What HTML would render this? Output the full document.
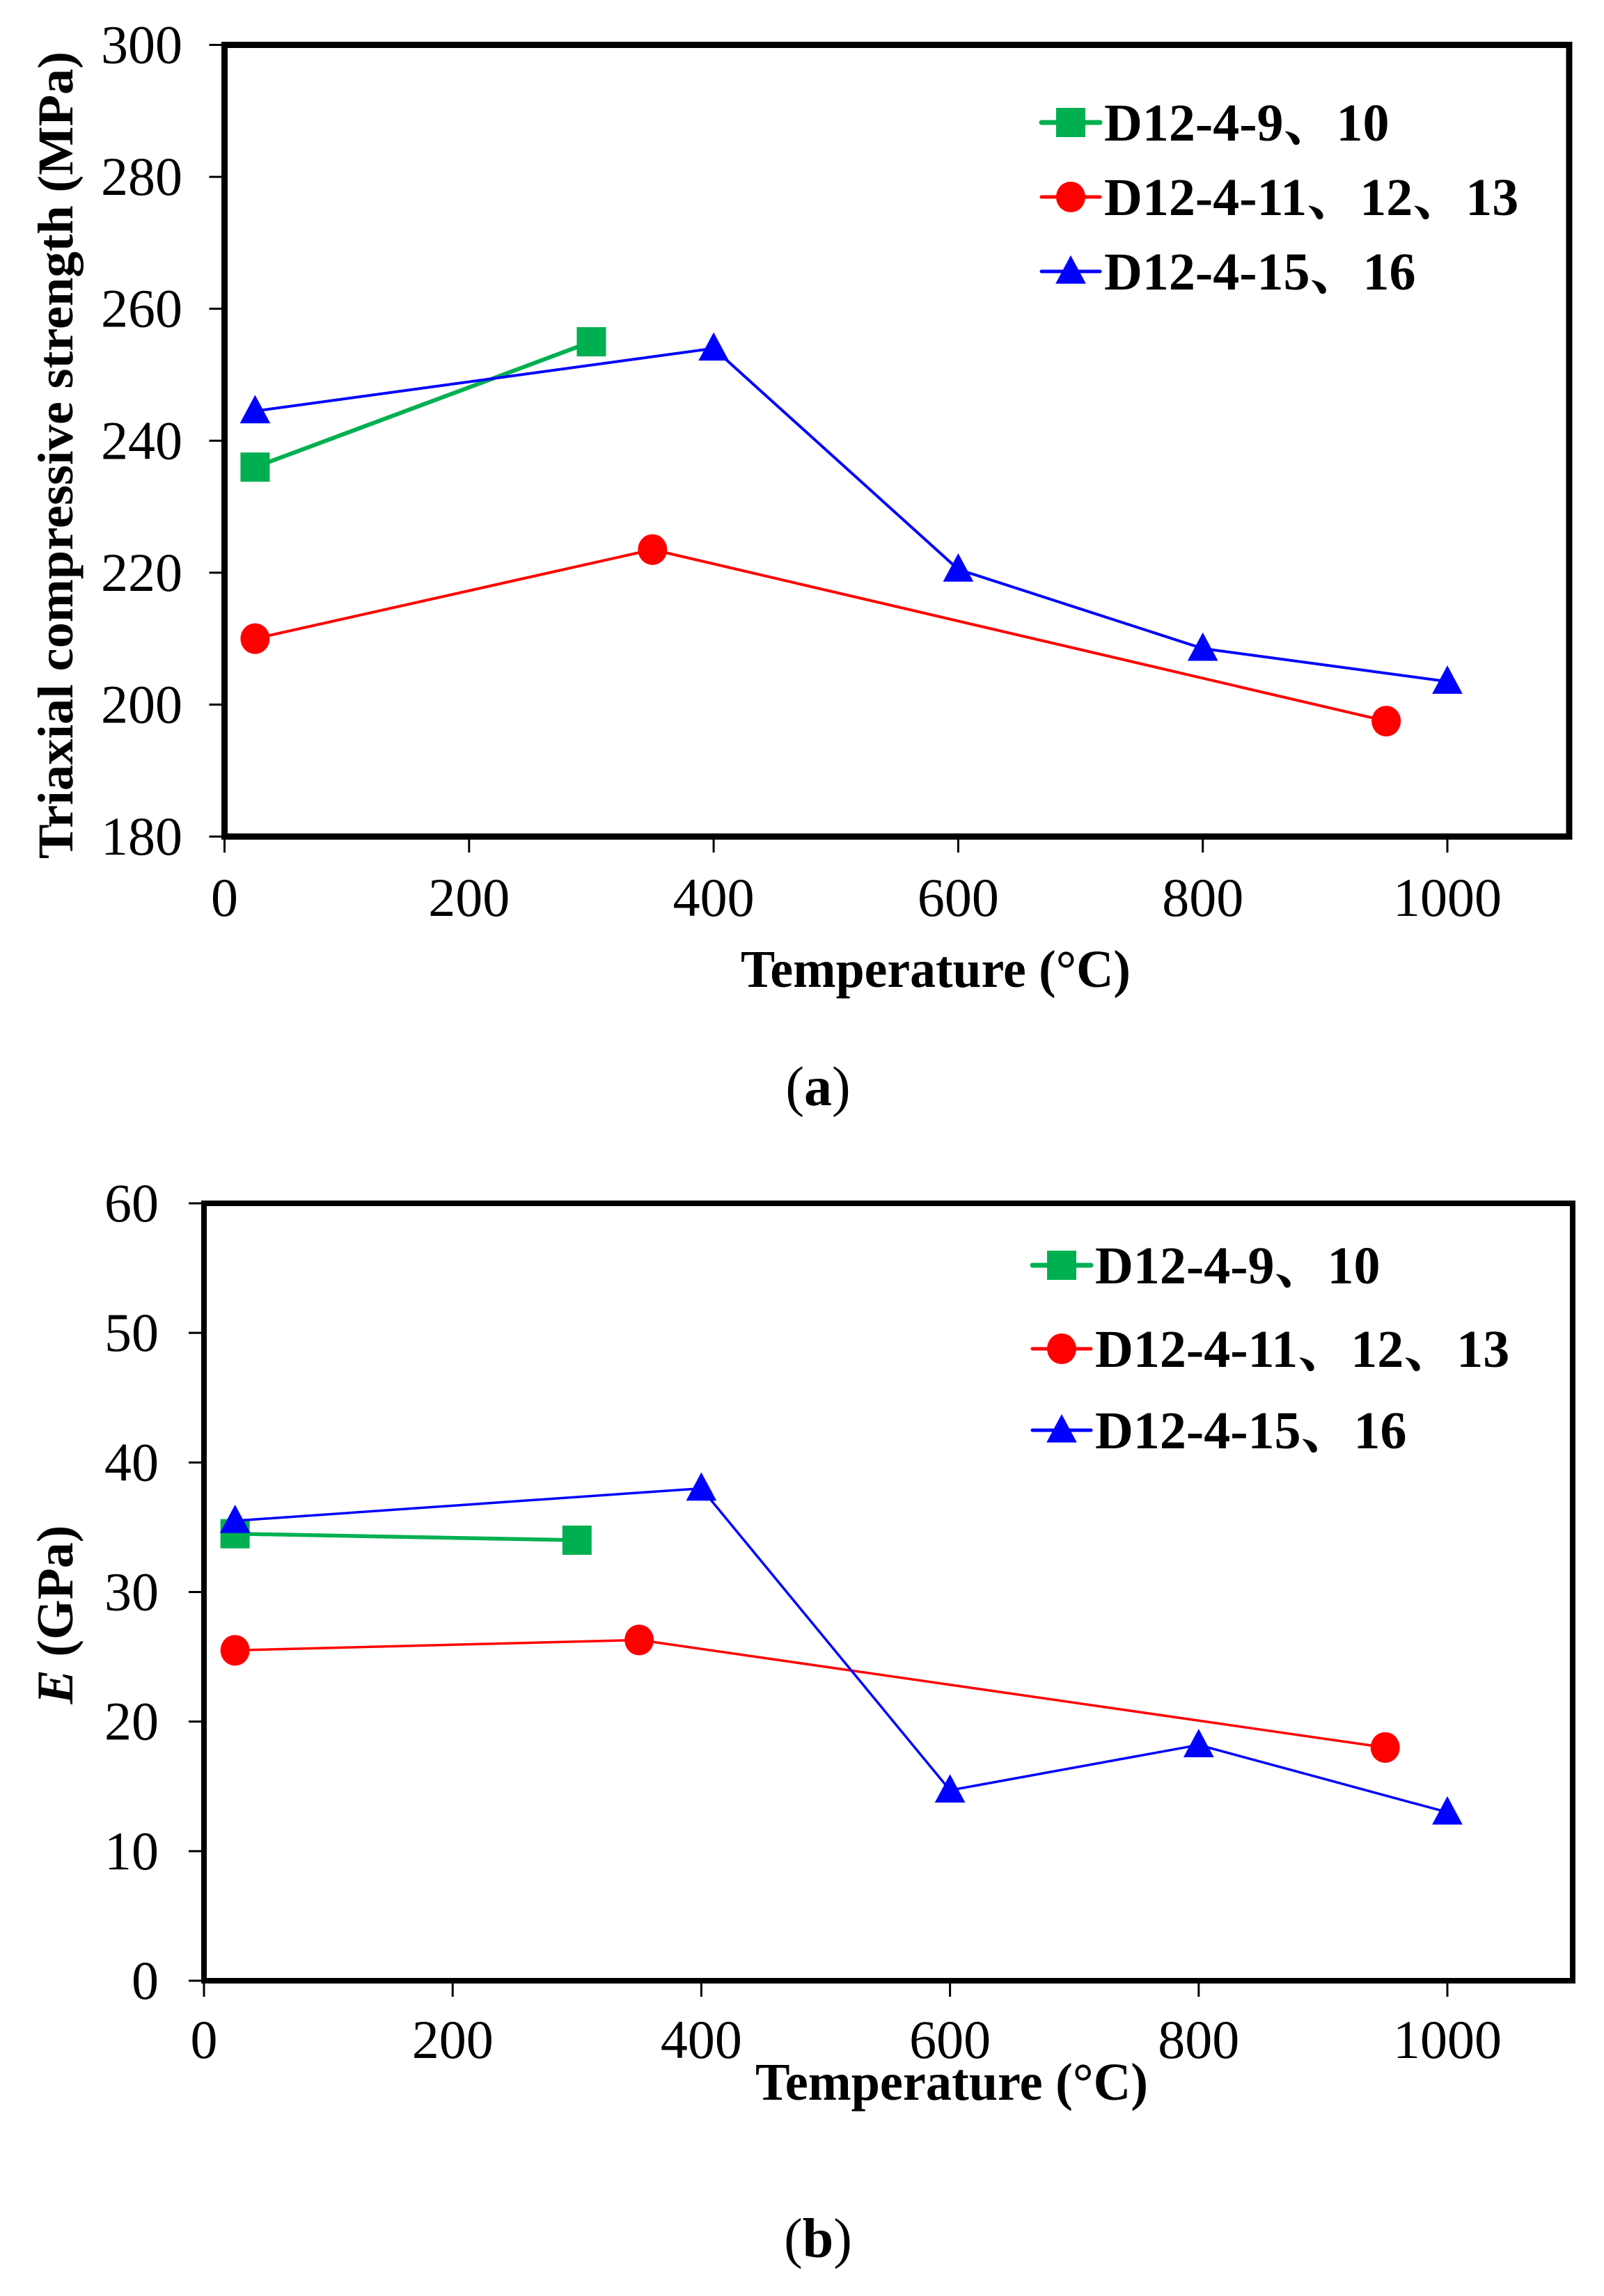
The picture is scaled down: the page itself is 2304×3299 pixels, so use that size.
<!DOCTYPE html>
<html>
<head>
<meta charset="utf-8">
<style>
  html,body{margin:0;padding:0;background:#fff;}
  svg{display:block;}
  text{font-family:"Liberation Serif","Noto Serif CJK SC","Noto Sans CJK SC",serif;fill:#000;}
</style>
</head>
<body>
<svg id="fig" width="2304" height="3299" viewBox="0 0 2304 3299" xmlns="http://www.w3.org/2000/svg">
  <rect x="0" y="0" width="2304" height="3299" fill="#fff"/>
  <g id="chartA"></g>
  <g id="chartB"></g>
  <text x="1175" y="1588" font-size="80" text-anchor="middle">(<tspan font-weight="bold">a</tspan>)</text>
  <text x="1175" y="3243" font-size="80" text-anchor="middle">(<tspan font-weight="bold">b</tspan>)</text>
</svg>
<script>
// ---------- Data: chart (a) ----------
const aXTicks = [0, 200, 400, 600, 800, 1000];
const aYTicks = [180, 200, 220, 240, 260, 280, 300];
const aGreenX = [25, 300];
const aGreenY = [236, 255];
const aRedX = [25, 350, 950];
const aRedY = [210, 223.5, 197.5];
const aBlueX = [25, 400, 600, 800, 1000];
const aBlueY = [244.5, 254, 220.5, 208.5, 203.5];
// ---------- Data: chart (b) ----------
const bXTicks = [0, 200, 400, 600, 800, 1000];
const bYTicks = [0, 10, 20, 30, 40, 50, 60];
const bGreenX = [25, 300];
const bGreenY = [34.5, 34];
const bRedX = [25, 350, 950];
const bRedY = [25.5, 26.3, 18];
const bBlueX = [25, 400, 600, 800, 1000];
const bBlueY = [35.5, 38, 14.7, 18.2, 13];
const legendLabels = ["D12-4-9、10", "D12-4-11、12、13", "D12-4-15、16"];

const NS = "http://www.w3.org/2000/svg";
function mk(parent, tag, attrs) {
  const e = document.createElementNS(NS, tag);
  for (const k in attrs) e.setAttribute(k, attrs[k]);
  parent.appendChild(e);
  return e;
}

function marker(g, kind, cx, cy, color, s) {
  let e;
  if (kind === "square") {
    e = mk(g, "rect", {x: cx - s/2, y: cy - s/2, width: s, height: s, fill: color});
  } else if (kind === "circle") {
    e = mk(g, "ellipse", {cx: cx, cy: cy, rx: s/2, ry: s/2 * 1.05, fill: color});
  } else {
    e = mk(g, "polygon", {points: `${cx},${cy - s*0.55} ${cx - s*0.52},${cy + s*0.42} ${cx + s*0.52},${cy + s*0.42}`, fill: color});
  }
  return e;
}

function drawChart(g, cfg) {
  const xs = v => cfg.x0 + (v - cfg.xmin) / (cfg.xmax - cfg.xmin) * (cfg.x1 - cfg.x0);
  const ys = v => cfg.y0 - (v - cfg.ymin) / (cfg.ymax - cfg.ymin) * (cfg.y0 - cfg.y1);
  const right = cfg.right, top = cfg.top;

  cfg.xTicks.forEach(t => {
    const tk = mk(g, "line", {x1: xs(t), x2: xs(t), y1: cfg.y0, y2: cfg.y0 + 23, stroke: "#000", "stroke-width": 3});
    
    
    const lb = mk(g, "text", {x: xs(t), y: cfg.xLabelY, "font-size": 78, "text-anchor": "middle"});
    lb.textContent = t;
    
    
  });
  cfg.yTicks.forEach(t => {
    const tk = mk(g, "line", {x1: cfg.x0 - 22, x2: cfg.x0, y1: ys(t), y2: ys(t), stroke: "#000", "stroke-width": 3});
    
    
    const lb = mk(g, "text", {x: cfg.yLabelX, y: ys(t) + 26, "font-size": 78, "text-anchor": "end"});
    lb.textContent = t;
    
    
  });

  const fr = mk(g, "rect", {x: cfg.x0, y: top, width: right - cfg.x0, height: cfg.y0 - top, fill: "none", stroke: "#000", "stroke-width": cfg.frameW});
  
  

  const series = [
    {x: cfg.gX, y: cfg.gY, c: "#00b050", k: "square", w: cfg.lw + 2, name: "series-d12-4-9-10"},
    {x: cfg.rX, y: cfg.rY, c: "#ff0000", k: "circle", w: cfg.lw, name: "series-d12-4-11-12-13"},
    {x: cfg.bX, y: cfg.bY, c: "#0000ff", k: "triangle", w: cfg.lw, name: "series-d12-4-15-16"}
  ];
  series.forEach(s => {
    const sg = mk(g, "g", {});
    
    
    const pts = s.x.map((v, i) => xs(v) + "," + ys(s.y[i])).join(" ");
    const pl = mk(sg, "polyline", {points: pts, fill: "none", stroke: s.c, "stroke-width": s.w, "stroke-linejoin": "round"});
    
    
    s.x.forEach((v, i) => {
      const m = marker(sg, s.k, xs(v), ys(s.y[i]), s.c, 42);
      
      
    });
  });

  const lg = mk(g, "g", {});
  
  
  series.forEach((s, i) => {
    const cy = cfg.legY[i];
    const eg = mk(lg, "g", {});
    
    
    const ln = mk(eg, "line", {x1: cfg.legX0, x2: cfg.legX0 + 84, y1: cy, y2: cy, stroke: s.c, "stroke-width": i === 0 ? 7 : 5, "stroke-linecap": "round"});
    
    
    const m = marker(eg, s.k, cfg.legX0 + 42, cy, s.c, 42);
    
    
    const t = mk(eg, "text", {x: cfg.legX0 + 90, y: cy + 26, "font-size": 76, "font-weight": "bold"});
    t.textContent = legendLabels[i];
    
    
  });
}

const gA = document.getElementById("chartA");
drawChart(gA, {
  x0: 322.5, x1: 2079, xmin: 0, xmax: 1000, right: 2254, top: 64.5,
  y0: 1202, y1: 64.5, ymin: 180, ymax: 300, frameW: 9, lw: 4,
  xTicks: aXTicks, yTicks: aYTicks, xLabelY: 1316, yLabelX: 262,
  gX: aGreenX, gY: aGreenY, rX: aRedX, rY: aRedY, bX: aBlueX, bY: aBlueY,
  legX0: 1496, legY: [176, 283, 390]
});
const gB = document.getElementById("chartB");
drawChart(gB, {
  x0: 293, x1: 2079, xmin: 0, xmax: 1000, right: 2259, top: 1729,
  y0: 2846, y1: 1729, ymin: 0, ymax: 60, frameW: 8, lw: 3.5,
  xTicks: bXTicks, yTicks: bYTicks, xLabelY: 2957, yLabelX: 228,
  gX: bGreenX, gY: bGreenY, rX: bRedX, rY: bRedY, bX: bBlueX, bY: bBlueY,
  legX0: 1483, legY: [1818, 1938, 2055]
});

const svg = document.getElementById("fig");
const t1 = mk(svg, "text", {x: 1344, y: 1418, "font-size": 76, "font-weight": "bold", "text-anchor": "middle", textLength: 560, lengthAdjust: "spacingAndGlyphs"});
t1.textContent = "Temperature (°C)";


const t2 = mk(svg, "text", {x: 0, y: 0, "font-size": 72, "font-weight": "bold", "text-anchor": "middle", textLength: 1160, lengthAdjust: "spacingAndGlyphs", transform: "translate(104,654) rotate(-90)"});
t2.textContent = "Triaxial compressive strength (MPa)";


const t3 = mk(svg, "text", {x: 1367, y: 3017, "font-size": 76, "font-weight": "bold", "text-anchor": "middle", textLength: 564, lengthAdjust: "spacingAndGlyphs"});
t3.textContent = "Temperature (°C)";


const t4 = mk(svg, "text", {x: 0, y: 0, "font-size": 74, "font-weight": "bold", "text-anchor": "middle", transform: "translate(104,2320) rotate(-90)"});
const tE = mk(t4, "tspan", {"font-style": "italic"});
tE.textContent = "E";
const tR = mk(t4, "tspan", {});
tR.textContent = " (GPa)";


</script>
</body>
</html>
